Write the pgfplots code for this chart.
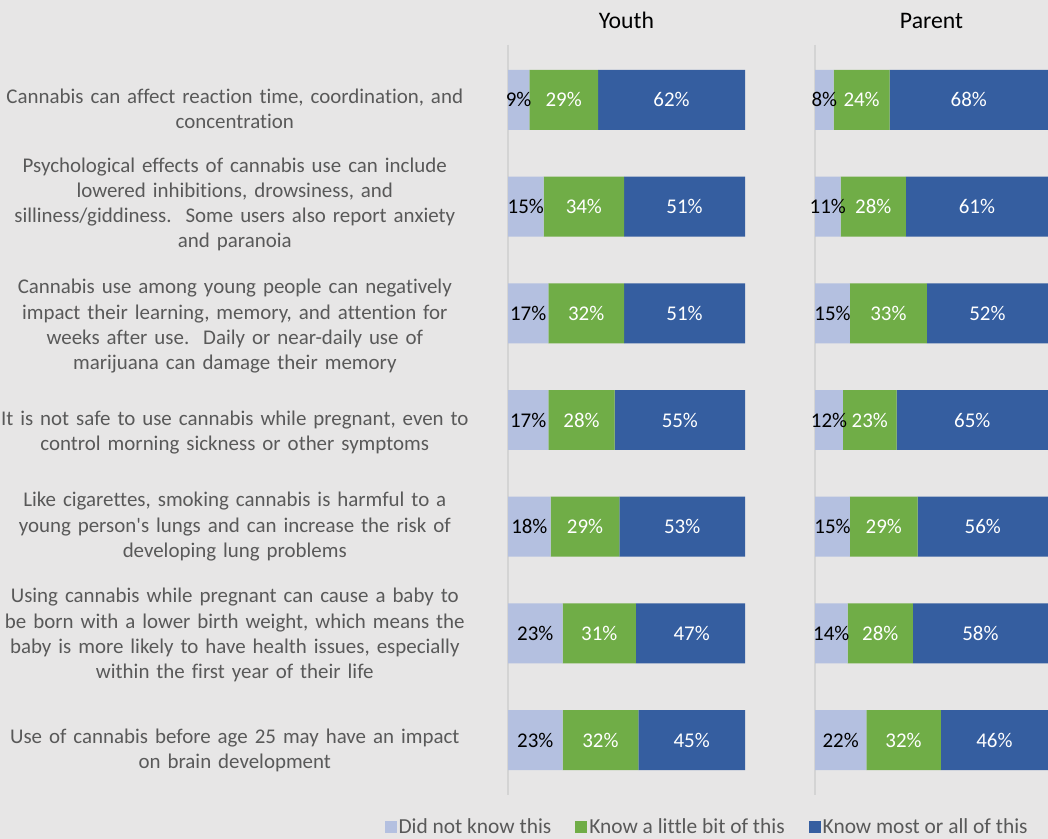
\documentclass[border=0pt]{standalone}
\usepackage{pgfplots}
\pgfplotsset{compat=1.18}
\usepackage{pgfplotstable}
\usepackage{fontspec}
\setmainfont{Carlito}[Ligatures={NoCommon}]
\definecolor{bg}{RGB}{231,230,230}
\definecolor{c1}{RGB}{180,192,224}
\definecolor{c2}{RGB}{112,173,71}
\definecolor{c3}{RGB}{53,94,160}
\definecolor{txt}{RGB}{89,89,89}
\definecolor{axl}{RGB}{212,212,212}

\pgfplotstableread{
y a b c
0 9 29 62
1 15 34 51
2 17 32 51
3 17 28 55
4 18 29 53
5 23 31 47
6 23 32 45
}\youth
\pgfplotstableread{
y a b c
0 8 24 68
1 11 28 61
2 15 33 52
3 12 23 65
4 15 29 56
5 14 28 58
6 22 32 46
}\parent

\newcommand{\lf}{\fontsize{21pt}{25.3pt}\selectfont}
\newcommand{\gf}{\fontsize{21.5pt}{25.3pt}\selectfont}
\newcommand{\tf}{\fontsize{23.8pt}{28pt}\selectfont}

\pgfplotsset{
  geom/.style={
    scale only axis, height=750bp,
    xmin=0, xmax=100, ymin=-0.515, ymax=6.515, y dir=reverse,
    anchor=south west,
  },
  bars/.style={
    geom, xbar stacked, bar width=0.562,
    axis x line=none, axis y line*=left,
    y axis line style={draw=axl, line width=1.5bp},
    ytick style={draw=none},
    title style={at={(0.5,1)}, anchor=base, yshift=11bp, font=\tf, text=black},
  },
  labs/.style={geom, hide axis},
  lbl/.style={draw=none, mark=none, point meta=explicit,
    nodes near coords={\pgfmathprintnumber[assume math mode=true]{\pgfplotspointmeta}\%},
    every node near coord/.append style={anchor=center, text=#1, font=\lf, inner sep=0pt},
  },
}

\begin{document}
\begin{tikzpicture}
\fill[bg] (0,0) rectangle (1048bp,839bp);
\useasboundingbox (0,0) rectangle (1048bp,839bp);

\begin{axis}[bars, width=237bp, at={(508bp,44bp)}, title={Youth},
  ytick={0.084,0.981,2.122,3.121,4,5.016,6.094},
  yticklabels={
    {Cannabis can affect reaction time, coordination, and\\concentration},
    {Psychological effects of cannabis use can include\\lowered inhibitions, drowsiness, and\\silliness/giddiness.\ \ Some users also report anxiety\\and paranoia},
    {Cannabis use among young people can negatively\\impact their learning, memory, and attention for\\weeks after use.\ \ Daily or near-daily use of\\marijuana can damage their memory},
    {It is not safe to use cannabis while pregnant, even to\\control morning sickness or other symptoms},
    {Like cigarettes, smoking cannabis is harmful to a\\young person\textquotesingle s lungs and can increase the risk of\\developing lung problems},
    {Using cannabis while pregnant can cause a baby to\\be born with a lower birth weight, which means the\\baby is more likely to have health issues, especially\\within the first year of their life},
    {Use of cannabis before age 25 may have an impact\\on brain development}
  },
  yticklabel style={anchor=east, text width=490bp, align=center, inner sep=0pt, xshift=-28bp, font=\lf, text=txt},
  legend style={at={(0.84,-0.042)}, anchor=center, draw=none, fill=none, font=\gf, text=txt,
    inner sep=0pt, nodes={inner ysep=0.5pt},
    legend columns=3, /tikz/every even column/.append style={column sep=22bp}},
  legend image code/.code={\draw[#1, draw=none] (0bp,-6bp) rectangle (12bp,6bp);},
]
\addplot[fill=c1, draw=none] table[x=a, y=y] {\youth};
\addplot[fill=c2, draw=none] table[x=b, y=y] {\youth};
\addplot[fill=c3, draw=none] table[x=c, y=y] {\youth};
\legend{Did not know this, Know a little bit of this, Know most or all of this}
\end{axis}

\begin{axis}[labs, width=237bp, at={(508bp,44bp)}]
\addplot[lbl=black] table[x expr=\thisrow{a}/2, y=y, meta=a] {\youth};
\addplot[lbl=white] table[x expr=\thisrow{a}+\thisrow{b}/2, y=y, meta=b] {\youth};
\addplot[lbl=white] table[x expr=\thisrow{a}+\thisrow{b}+\thisrow{c}/2, y=y, meta=c] {\youth};
\end{axis}

\begin{axis}[bars, width=233bp, at={(815bp,44bp)}, title={Parent}, ytick=\empty]
\addplot[fill=c1, draw=none] table[x=a, y=y] {\parent};
\addplot[fill=c2, draw=none] table[x=b, y=y] {\parent};
\addplot[fill=c3, draw=none] table[x=c, y=y] {\parent};
\end{axis}

\begin{axis}[labs, width=233bp, at={(815bp,44bp)}]
\addplot[lbl=black] table[x expr=\thisrow{a}/2, y=y, meta=a] {\parent};
\addplot[lbl=white] table[x expr=\thisrow{a}+\thisrow{b}/2, y=y, meta=b] {\parent};
\addplot[lbl=white] table[x expr=\thisrow{a}+\thisrow{b}+\thisrow{c}/2, y=y, meta=c] {\parent};
\end{axis}
\end{tikzpicture}
\end{document}
